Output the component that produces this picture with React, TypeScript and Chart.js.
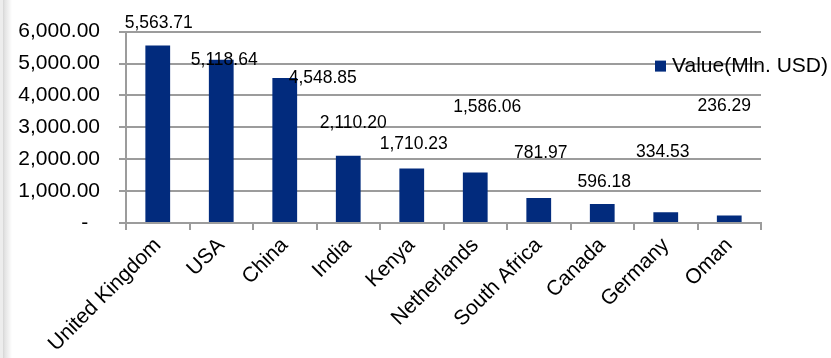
import React, { useEffect, useRef } from "react";
import { Chart, registerables } from "chart.js";

Chart.register(...registerables);

const categories = [
  "United Kingdom",
  "USA",
  "China",
  "India",
  "Kenya",
  "Netherlands",
  "South Africa",
  "Canada",
  "Germany",
  "Oman",
];
const values = [5563.71, 5118.64, 4548.85, 2110.2, 1710.23, 1586.06, 781.97, 596.18, 334.53, 236.29];
const seriesLabel = "Value(Mln. USD)";
const yTicks = [0, 1000, 2000, 3000, 4000, 5000, 6000];

// label placement (style only): offset from bar top centre, in px
const labelOffsets: [number, number][] = [
  [1, -22],
  [3, 0],
  [38, 0],
  [5, -33],
  [2, -24],
  [12, -65],
  [2, -45],
  [2, -22],
  [-3, -60],
  [-5, -109],
];

const BAR = "#022b7d";
const GRID = "#9c9c9c";
const FONT = "'Liberation Sans', Arial, sans-serif";

const fmt = new Intl.NumberFormat("en-US", { minimumFractionDigits: 2, maximumFractionDigits: 2 });

const dataLabels = {
  id: "dataLabels",
  afterDatasetsDraw(chart: any) {
    const ctx = chart.ctx;
    const meta = chart.getDatasetMeta(0);
    ctx.save();
    ctx.font = `17.5px ${FONT}`;
    ctx.fillStyle = "#000";
    ctx.textAlign = "center";
    ctx.textBaseline = "middle";
    meta.data.forEach((el: any, i: number) => {
      const [dx, dy] = labelOffsets[i];
      ctx.fillText(fmt.format(values[i]), el.x + dx, el.y + dy);
    });
    ctx.restore();
  },
};

const customLegend = {
  id: "customLegend",
  afterDraw(chart: any) {
    const ctx = chart.ctx;
    const { right, top } = chart.chartArea;
    const x = right - 106;
    const y = top + 34;
    ctx.save();
    ctx.fillStyle = BAR;
    ctx.fillRect(x, y - 5, 11, 11);
    ctx.font = `21px ${FONT}`;
    ctx.fillStyle = "#000";
    ctx.textAlign = "left";
    ctx.textBaseline = "middle";
    ctx.fillText(seriesLabel, x + 17, y + 1);
    ctx.restore();
  },
};

export default function App() {
  const ref = useRef<HTMLCanvasElement>(null);
  useEffect(() => {
    if (!ref.current) return;
    const chart = new Chart(ref.current, {
      type: "bar",
      data: {
        labels: categories,
        datasets: [
          {
            label: seriesLabel,
            data: values,
            backgroundColor: BAR,
            borderWidth: 0,
            categoryPercentage: 1,
            barPercentage: 0.39,
          },
        ],
      },
      options: {
        responsive: false,
        animation: false,
        devicePixelRatio: 1,
        layout: { padding: { left: 0, top: 29, right: 70, bottom: 0 } },
        plugins: { legend: { display: false }, tooltip: { enabled: false } },
        scales: {
          x: {
            grid: {
              display: true,
              drawOnChartArea: false,
              drawTicks: true,
              tickLength: 7,
              color: GRID,
              lineWidth: 2,
            },
            border: { display: true, color: GRID, width: 2 },
            ticks: {
              autoSkip: false,
              minRotation: 45,
              maxRotation: 45,
              padding: 3,
              color: "#000",
              font: { family: FONT, size: 21 },
            },
            afterFit(scale: any) {
              scale.height = 135;
            },
          },
          y: {
            min: 0,
            max: 6000,
            afterBuildTicks(scale: any) {
              scale.ticks = yTicks.map((v) => ({ value: v }));
            },
            grid: { color: GRID, lineWidth: 2, tickLength: 7 },
            border: { display: true, color: GRID, width: 2 },
            ticks: {
              padding: 19,
              color: "#000",
              font: { family: FONT, size: 21 },
              callback: (v: any) => (Number(v) === 0 ? "-  " : fmt.format(Number(v))),
            },
            afterFit(scale: any) {
              scale.width = 126;
            },
          },
        },
      },
      plugins: [dataLabels, customLegend],
    });
    return () => chart.destroy();
  }, []);

  return (
    <div style={{ position: "absolute", left: 0, top: 0, width: 831, height: 358, background: "#fff", overflow: "hidden" }}>
      <div
        style={{
          position: "absolute",
          left: 0,
          top: 0,
          width: 12,
          height: 358,
          background:
            "linear-gradient(to right, #ededed 0px, #ededed 3px, #d6d6d6 3px, #e4e4e4 5px, #f3f3f3 9px, #ffffff 12px)",
        }}
      />
      <canvas ref={ref} width={831} height={358} style={{ position: "absolute", left: 0, top: 0 }} />
    </div>
  );
}
